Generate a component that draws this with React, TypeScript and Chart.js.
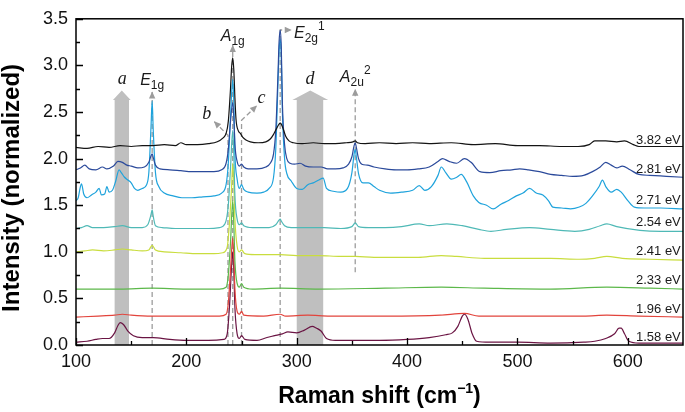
import React, { useEffect, useRef } from 'react';
import { Chart, registerables } from 'chart.js';
Chart.register(...registerables);

// ---- axes ----
const X_MIN = 100;
const X_MAX = 650;
const Y_MIN = 0;
const Y_MAX = 3.5;
const xTicks = [100, 200, 300, 400, 500, 600];
const xMinorTicks = [150, 250, 350, 450, 550];
const yTicks = [0, 0.5, 1, 1.5, 2, 2.5, 3, 3.5];
const yMinorTicks = [0.25, 0.75, 1.25, 1.75, 2.25, 2.75, 3.25];

// ---- series ----
const energyLabels = ['3.82 eV', '2.81 eV', '2.71 eV', '2.54 eV', '2.41 eV', '2.33 eV', '1.96 eV', '1.58 eV'];
const energyLabelY = [2.2, 1.88, 1.55, 1.31, 1.0, 0.69, 0.38, 0.08];
const seriesColors = ['#141414', '#2b4a9b', '#1fa3dc', '#4fb9b6', '#c9dd3e', '#5cb84a', '#e2443c', '#6a1443'];

const s382: [number, number][] = [
  [100, 2.12], [110, 2.11], [120, 2.13], [130, 2.12], [140, 2.14], [150, 2.13], [160, 2.14], [170, 2.14], [180, 2.15],
  [190, 2.14], [195, 2.17], [200, 2.15], [210, 2.15], [220, 2.16], [228, 2.18], [233, 2.22], [236, 2.27], [238, 2.4],
  [240, 2.75], [241, 2.98], [242, 3.08], [243, 2.95], [244, 2.65], [245, 2.42], [247, 2.3], [249, 2.27], [251, 2.23],
  [254, 2.2], [258, 2.18], [265, 2.17], [272, 2.18], [276, 2.21], [279, 2.26], [282, 2.33], [284, 2.37], [285, 2.38],
  [286, 2.37], [288, 2.31], [290, 2.24], [293, 2.19], [297, 2.17], [305, 2.16], [315, 2.17], [325, 2.16], [335, 2.16],
  [345, 2.17], [351, 2.18], [353, 2.19], [355, 2.17], [362, 2.16], [375, 2.17], [390, 2.16], [405, 2.17], [420, 2.16],
  [440, 2.17], [460, 2.15], [480, 2.16], [500, 2.14], [520, 2.14], [540, 2.13], [555, 2.13], [565, 2.15], [570, 2.19],
  [580, 2.19], [590, 2.18], [597, 2.19], [605, 2.15], [610, 2.13], [630, 2.13], [650, 2.13],
];

const s281: [number, number][] = [
  [100, 1.88], [104, 1.9], [108, 1.93], [112, 1.89], [118, 1.88], [124, 1.91], [128, 1.89], [134, 1.92], [138, 1.97],
  [142, 1.96], [146, 1.93], [150, 1.92], [156, 1.9], [162, 1.91], [166, 1.96], [168, 2.03], [169, 2.05], [170, 2.01],
  [172, 1.93], [176, 1.89], [185, 1.88], [195, 1.87], [205, 1.86], [215, 1.86], [225, 1.86], [232, 1.88], [236, 1.95],
  [238, 2.1], [240, 2.4], [242, 2.6], [243, 2.45], [244, 2.15], [246, 1.97], [248, 1.92], [250, 1.94], [252, 1.91],
  [256, 1.89], [264, 1.89], [272, 1.91], [276, 1.95], [279, 2.05], [281, 2.3], [283, 2.9], [284, 3.25], [285, 3.38],
  [286, 3.2], [287, 2.6], [289, 2.15], [291, 2.0], [294, 1.95], [298, 1.94], [303, 1.95], [308, 1.92], [315, 1.91],
  [322, 1.91], [328, 1.89], [335, 1.89], [342, 1.9], [347, 1.94], [350, 2.02], [352, 2.14], [353, 2.17], [354, 2.12],
  [356, 2.0], [359, 1.94], [364, 1.93], [370, 1.91], [380, 1.89], [390, 1.88], [400, 1.88], [410, 1.89], [420, 1.91],
  [428, 1.97], [432, 2.0], [438, 1.97], [445, 1.95], [452, 2.0], [458, 1.96], [466, 1.86], [475, 1.85], [485, 1.87],
  [495, 1.88], [502, 1.89], [510, 1.88], [520, 1.86], [530, 1.83], [540, 1.82], [550, 1.81], [560, 1.82], [568, 1.86],
  [575, 1.91], [580, 1.96], [585, 1.93], [590, 1.9], [595, 1.92], [602, 1.88], [610, 1.83], [620, 1.82], [635, 1.81],
  [650, 1.8],
];

const s271: [number, number][] = [
  [100, 1.55], [102, 1.58], [104, 1.7], [105, 1.73], [107, 1.62], [110, 1.58], [114, 1.61], [118, 1.64], [121, 1.68],
  [123, 1.61], [126, 1.62], [128, 1.7], [130, 1.64], [133, 1.66], [136, 1.76], [139, 1.88], [141, 1.85], [144, 1.8],
  [147, 1.77], [150, 1.74], [153, 1.68], [156, 1.66], [160, 1.68], [164, 1.72], [166, 1.85], [168, 2.35], [169, 2.62],
  [170, 2.3], [172, 1.85], [175, 1.7], [180, 1.63], [188, 1.6], [196, 1.58], [205, 1.58], [215, 1.59], [225, 1.6],
  [232, 1.63], [236, 1.72], [238, 1.95], [240, 2.45], [242, 2.85], [243, 2.6], [244, 2.05], [246, 1.78], [248, 1.68],
  [250, 1.72], [252, 1.67], [256, 1.64], [264, 1.63], [270, 1.64], [275, 1.68], [279, 1.8], [281, 2.1], [283, 2.8],
  [284, 3.15], [285, 3.28], [286, 3.1], [287, 2.5], [289, 2.0], [291, 1.84], [295, 1.76], [300, 1.68], [305, 1.67],
  [310, 1.72], [315, 1.74], [320, 1.77], [324, 1.79], [327, 1.68], [333, 1.65], [340, 1.64], [346, 1.68], [350, 1.85],
  [352, 2.05], [353, 2.1], [354, 2.02], [356, 1.84], [360, 1.74], [365, 1.74], [370, 1.7], [375, 1.66], [385, 1.63],
  [395, 1.64], [405, 1.66], [411, 1.71], [416, 1.66], [422, 1.7], [428, 1.82], [431, 1.91], [435, 1.85], [440, 1.78],
  [445, 1.8], [449, 1.83], [454, 1.75], [460, 1.6], [465, 1.53], [472, 1.5], [478, 1.46], [485, 1.51], [492, 1.55],
  [499, 1.6], [505, 1.63], [511, 1.68], [517, 1.63], [523, 1.61], [528, 1.55], [532, 1.48], [540, 1.47], [548, 1.46],
  [556, 1.48], [562, 1.52], [568, 1.6], [574, 1.7], [577, 1.77], [580, 1.7], [585, 1.64], [590, 1.67], [594, 1.64],
  [600, 1.55], [606, 1.48], [615, 1.47], [630, 1.47], [650, 1.46],
];

const s254: [number, number][] = [
  [100, 1.25], [105, 1.26], [110, 1.28], [115, 1.26], [125, 1.26], [135, 1.27], [142, 1.28], [150, 1.26], [160, 1.26],
  [165, 1.29], [168, 1.4], [169, 1.45], [170, 1.38], [172, 1.28], [178, 1.26], [190, 1.25], [205, 1.25], [220, 1.25],
  [230, 1.26], [235, 1.3], [238, 1.5], [240, 1.9], [242, 2.3], [243, 2.05], [244, 1.6], [246, 1.35], [248, 1.29],
  [250, 1.31], [252, 1.28], [260, 1.26], [275, 1.26], [281, 1.29], [284, 1.34], [285, 1.35], [286, 1.33], [289, 1.28],
  [295, 1.26], [310, 1.26], [325, 1.26], [340, 1.25], [350, 1.27], [353, 1.31], [356, 1.27], [365, 1.26], [380, 1.26],
  [395, 1.27], [411, 1.3], [420, 1.28], [436, 1.3], [450, 1.28], [465, 1.24], [476, 1.22], [490, 1.24], [511, 1.26],
  [530, 1.24], [552, 1.22], [565, 1.24], [575, 1.28], [581, 1.3], [590, 1.27], [611, 1.23], [630, 1.22], [650, 1.22],
];

const s241: [number, number][] = [
  [100, 1.0], [108, 1.01], [115, 1.02], [125, 1.01], [135, 1.02], [142, 1.03], [150, 1.02], [160, 1.01], [166, 1.02],
  [169, 1.07], [172, 1.02], [180, 1.0], [195, 0.99], [210, 0.98], [225, 0.98], [233, 0.99], [237, 1.05], [239, 1.3],
  [241, 1.7], [242, 1.95], [243, 1.75], [244, 1.35], [246, 1.06], [248, 1.0], [250, 1.02], [253, 0.98], [262, 0.97],
  [275, 0.97], [285, 0.97], [300, 0.96], [320, 0.96], [340, 0.95], [353, 0.95], [370, 0.94], [390, 0.94], [410, 0.94],
  [431, 0.96], [445, 0.95], [470, 0.93], [500, 0.93], [530, 0.93], [556, 0.92], [570, 0.93], [581, 0.95], [595, 0.93],
  [620, 0.92], [650, 0.91],
];

const s233: [number, number][] = [
  [100, 0.6], [140, 0.6], [169, 0.61], [200, 0.6], [230, 0.6], [236, 0.62], [238, 0.75], [240, 1.1], [242, 1.55],
  [243, 1.3], [244, 0.9], [246, 0.66], [248, 0.62], [250, 0.66], [252, 0.62], [260, 0.6], [285, 0.61], [320, 0.6],
  [380, 0.61], [431, 0.62], [470, 0.61], [530, 0.6], [581, 0.62], [620, 0.61], [650, 0.6],
];

const s196: [number, number][] = [
  [100, 0.3], [120, 0.31], [135, 0.32], [142, 0.33], [150, 0.32], [169, 0.31], [200, 0.31], [230, 0.31], [236, 0.33],
  [238, 0.45], [240, 0.8], [242, 1.15], [243, 0.95], [244, 0.6], [246, 0.36], [248, 0.33], [250, 0.36], [252, 0.32],
  [270, 0.31], [285, 0.33], [290, 0.31], [310, 0.32], [330, 0.31], [380, 0.31], [430, 0.32], [452, 0.34], [465, 0.31],
  [520, 0.31], [560, 0.31], [581, 0.32], [610, 0.31], [650, 0.3],
];

const s158: [number, number][] = [
  [100, 0.03], [110, 0.04], [118, 0.06], [124, 0.07], [130, 0.07], [135, 0.13], [138, 0.21], [140, 0.24], [143, 0.22],
  [147, 0.15], [152, 0.1], [160, 0.08], [170, 0.08], [185, 0.06], [200, 0.05], [220, 0.05], [234, 0.06], [237, 0.12],
  [239, 0.4], [241, 0.85], [242, 1.0], [243, 0.8], [244, 0.4], [246, 0.12], [248, 0.07], [250, 0.1], [253, 0.06],
  [264, 0.05], [273, 0.08], [280, 0.1], [287, 0.12], [292, 0.14], [300, 0.13], [307, 0.16], [314, 0.2], [318, 0.18],
  [322, 0.15], [327, 0.07], [335, 0.05], [351, 0.05], [375, 0.05], [400, 0.06], [420, 0.08], [435, 0.11], [441, 0.13],
  [446, 0.2], [450, 0.31], [452, 0.33], [455, 0.28], [459, 0.12], [463, 0.04], [475, 0.03], [500, 0.03], [530, 0.02],
  [560, 0.03], [570, 0.04], [580, 0.07], [588, 0.12], [592, 0.18], [594, 0.18], [597, 0.12], [601, 0.04], [610, 0.02],
  [630, 0.02], [650, 0.02],
];

const allSeries = [s382, s281, s271, s254, s241, s233, s196, s158];

// ---- annotations (data units) ----
// shaded bands with arrow heads: [xLeft, xRight, headLeft, headRight, headBase, apex]
const bandA = [135, 148, 133.5, 149.5, 2.63, 2.73];
const bandD = [300, 324, 296, 328.5, 2.63, 2.73];
// dashed guide lines: polylines, arrow at the end
const guideE1g: [number, number][] = [[169, 0], [169, 2.72]];
const guideA1g: [number, number][] = [[242, 0], [242, 3.22]];
const guideB: [number, number][] = [[237.7, 0], [237.7, 2.25], [225, 2.4]];
const guideC: [number, number][] = [[250, 0], [250, 2.41], [264, 2.57]];
const guideE2g: [number, number][] = [[285, 0], [285, 3.38], [295.5, 3.38]];
const guideA2u: [number, number][] = [[353, 0.78], [353, 2.75]];

const SANS = '"Liberation Sans", Arial, Helvetica, sans-serif';
const SERIF = '"Liberation Serif", "Times New Roman", serif';

type Part = { t: string; font: string; dy: number };

function drawParts(ctx: CanvasRenderingContext2D, parts: Part[], x: number, y: number, align: 'center' | 'left') {
  let w = 0;
  for (const p of parts) { ctx.font = p.font; w += ctx.measureText(p.t).width; }
  let cx = align === 'center' ? x - w / 2 : x;
  ctx.textAlign = 'left';
  ctx.textBaseline = 'alphabetic';
  for (const p of parts) {
    ctx.font = p.font;
    ctx.fillText(p.t, cx, y + p.dy);
    cx += ctx.measureText(p.t).width;
  }
}

function arrowHead(ctx: CanvasRenderingContext2D, x0: number, y0: number, x1: number, y1: number) {
  const a = Math.atan2(y1 - y0, x1 - x0);
  const L = 7, W = 3.2;
  ctx.beginPath();
  ctx.moveTo(x1, y1);
  ctx.lineTo(x1 - L * Math.cos(a) + W * Math.sin(a), y1 - L * Math.sin(a) - W * Math.cos(a));
  ctx.lineTo(x1 - L * Math.cos(a) - W * Math.sin(a), y1 - L * Math.sin(a) + W * Math.cos(a));
  ctx.closePath();
  ctx.fill();
}

const overlay = {
  id: 'overlay',
  beforeDatasetsDraw(chart: any) {
    const { ctx, chartArea: ca, scales } = chart;
    const X = (v: number) => scales.x.getPixelForValue(v);
    const Y = (v: number) => scales.y.getPixelForValue(v);
    ctx.save();
    ctx.beginPath();
    ctx.rect(ca.left, ca.top, ca.right - ca.left, ca.bottom - ca.top);
    ctx.clip();
    ctx.fillStyle = '#bfbfbf';
    for (const b of [bandA, bandD]) {
      const [x0, x1, h0, h1, base, apex] = b;
      ctx.beginPath();
      ctx.moveTo(X(x0), Y(0));
      ctx.lineTo(X(x0), Y(base));
      ctx.lineTo(X(h0), Y(base));
      ctx.lineTo(X((h0 + h1) / 2), Y(apex));
      ctx.lineTo(X(h1), Y(base));
      ctx.lineTo(X(x1), Y(base));
      ctx.lineTo(X(x1), Y(0));
      ctx.closePath();
      ctx.fill();
    }
    ctx.strokeStyle = '#9c9c9c';
    ctx.fillStyle = '#9c9c9c';
    ctx.lineWidth = 1.3;
    for (const g of [guideE1g, guideA1g, guideB, guideC, guideE2g, guideA2u]) {
      const pts = g.map(([a, b]) => [X(a), Y(b)]);
      ctx.setLineDash([5, 3]);
      ctx.beginPath();
      pts.forEach(([px, py], i) => (i ? ctx.lineTo(px, py) : ctx.moveTo(px, py)));
      ctx.stroke();
      ctx.setLineDash([]);
      const n = pts.length;
      arrowHead(ctx, pts[n - 2][0], pts[n - 2][1], pts[n - 1][0], pts[n - 1][1]);
    }
    ctx.restore();
  },
  afterDatasetsDraw(chart: any) {
    const { ctx, scales } = chart;
    const X = (v: number) => scales.x.getPixelForValue(v);
    const Y = (v: number) => scales.y.getPixelForValue(v);
    ctx.save();
    ctx.fillStyle = '#1a1a1a';
    // energy labels
    ctx.font = `13px ${SANS}`;
    ctx.textAlign = 'right';
    ctx.textBaseline = 'middle';
    energyLabels.forEach((t, i) => ctx.fillText(t, X(648), Y(energyLabelY[i])));
    // peak labels
    const it = `italic 16px ${SANS}`;
    const sub = `12px ${SANS}`;
    const ser = `italic 18px ${SERIF}`;
    drawParts(ctx, [{ t: 'a', font: ser, dy: 0 }], X(142), Y(2.8), 'center');
    drawParts(ctx, [{ t: 'd', font: ser, dy: 0 }], X(312), Y(2.8), 'center');
    drawParts(ctx, [{ t: 'b', font: ser, dy: 0 }], X(218.5), Y(2.42), 'center');
    drawParts(ctx, [{ t: 'c', font: ser, dy: 0 }], X(268), Y(2.6), 'center');
    drawParts(ctx, [{ t: 'E', font: it, dy: 0 }, { t: '1g', font: sub, dy: 4 }], X(169), Y(2.79), 'center');
    drawParts(ctx, [{ t: 'A', font: it, dy: 0 }, { t: '1g', font: sub, dy: 4 }], X(242), Y(3.26), 'center');
    drawParts(ctx, [{ t: 'E', font: it, dy: 0 }, { t: '2g', font: sub, dy: 4 }, { t: '1', font: sub, dy: -8 }], X(297.5), Y(3.29), 'left');
    drawParts(ctx, [{ t: 'A', font: it, dy: 0 }, { t: '2u', font: sub, dy: 4 }, { t: '2', font: sub, dy: -8 }], X(353), Y(2.82), 'center');
    ctx.restore();
  },
  afterDraw(chart: any) {
    const { ctx, chartArea: ca, scales } = chart;
    const X = (v: number) => scales.x.getPixelForValue(v);
    const Y = (v: number) => scales.y.getPixelForValue(v);
    ctx.save();
    ctx.strokeStyle = '#000';
    ctx.lineWidth = 1.5;
    ctx.strokeRect(ca.left, ca.top, ca.right - ca.left, ca.bottom - ca.top);
    ctx.lineWidth = 1.3;
    ctx.beginPath();
    for (const v of xTicks) { const p = Math.round(X(v)) + 0.5; ctx.moveTo(p, ca.bottom); ctx.lineTo(p, ca.bottom - 7); }
    for (const v of xMinorTicks) { const p = Math.round(X(v)) + 0.5; ctx.moveTo(p, ca.bottom); ctx.lineTo(p, ca.bottom - 4); }
    for (const v of yTicks) { const p = Math.round(Y(v)) + 0.5; ctx.moveTo(ca.left, p); ctx.lineTo(ca.left + 7, p); }
    for (const v of yMinorTicks) { const p = Math.round(Y(v)) + 0.5; ctx.moveTo(ca.left, p); ctx.lineTo(ca.left + 4, p); }
    ctx.stroke();
    // axis titles
    ctx.fillStyle = '#000';
    const tf = `bold 23px ${SANS}`;
    const parts: Part[] = [
      { t: 'Raman shift (cm', font: tf, dy: 0 },
      { t: '\u22121', font: `bold 14px ${SANS}`, dy: -10 },
      { t: ')', font: tf, dy: 0 },
    ];
    drawParts(ctx, parts, (ca.left + ca.right) / 2, 403, 'center');
    ctx.translate(19, (ca.top + ca.bottom) / 2 + 6);
    ctx.rotate(-Math.PI / 2);
    ctx.font = `bold 24px ${SANS}`;
    ctx.textAlign = 'center';
    ctx.textBaseline = 'alphabetic';
    ctx.fillText('Intensity (normalized)', 0, 0);
    ctx.restore();
  },
};

export default function App() {
  const ref = useRef<HTMLCanvasElement>(null);
  useEffect(() => {
    if (!ref.current) return;
    const chart = new Chart(ref.current, {
      type: 'line',
      data: {
        datasets: allSeries.map((s, i) => ({
          label: energyLabels[i],
          data: s.map(([x, y]) => ({ x, y })),
          borderColor: seriesColors[i],
          borderWidth: 1.2,
          pointRadius: 0,
          fill: false,
          cubicInterpolationMode: 'monotone' as const,
        })),
      },
      options: {
        responsive: false,
        animation: false,
        events: [],
        layout: { padding: { top: 7, right: 2, left: 0, bottom: 0 } },
        plugins: { legend: { display: false }, tooltip: { enabled: false } },
        scales: {
          x: {
            type: 'linear',
            min: X_MIN,
            max: X_MAX,
            afterBuildTicks: (s: any) => { s.ticks = xTicks.map((v) => ({ value: v })); },
            afterFit: (s: any) => { s.height = 67; },
            grid: { display: false, drawTicks: false },
            border: { display: false },
            ticks: { padding: 6, color: '#111', font: { size: 18, family: SANS }, maxRotation: 0, autoSkip: false },
          },
          y: {
            type: 'linear',
            min: Y_MIN,
            max: Y_MAX,
            afterBuildTicks: (s: any) => { s.ticks = yTicks.map((v) => ({ value: v })); },
            afterFit: (s: any) => { s.width = 76; },
            grid: { display: false, drawTicks: false },
            border: { display: false },
            ticks: {
              padding: 8,
              color: '#111',
              font: { size: 18, family: SANS },
              callback: (v: any) => Number(v).toFixed(1),
            },
          },
        },
      },
      plugins: [overlay],
    });
    return () => chart.destroy();
  }, []);
  return (
    <div style={{ position: 'fixed', left: 0, top: 0, width: 685, height: 412, background: '#fff' }}>
      <canvas ref={ref} width={685} height={412} />
    </div>
  );
}
